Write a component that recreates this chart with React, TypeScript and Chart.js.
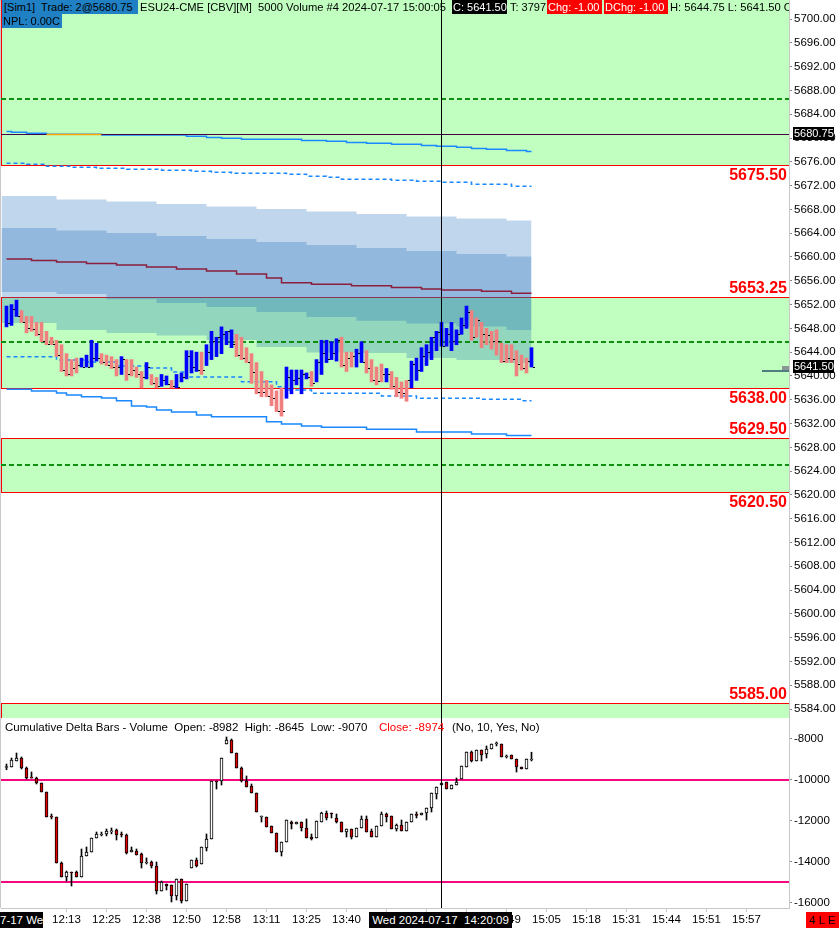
import React, { useEffect, useRef } from 'react';
import { Chart, registerables } from 'chart.js';

Chart.register(...registerables);

const FONT = '"Liberation Sans", Arial, Helvetica, sans-serif';

// ---------- 5000 volume price bars ----------
const barHigh = [
  5651.75, 5652.0, 5652.75, 5651.0, 5650.0, 5650.0, 5649.0, 5649.0, 5647.5, 5646.5,
  5646.0, 5645.25, 5643.75, 5642.75, 5643.0, 5643.0, 5643.5, 5646.0, 5645.5, 5643.75,
  5643.5, 5643.25, 5642.75, 5643.25, 5642.75, 5642.75, 5641.5, 5640.75, 5642.25, 5640.25,
  5639.75, 5640.25, 5640.0, 5639.25, 5640.25, 5640.5, 5644.25, 5644.25, 5644.0, 5644.0,
  5645.25, 5647.5, 5646.5, 5648.25, 5647.5, 5647.75, 5647.0, 5646.5, 5644.75, 5643.75,
  5642.25, 5640.75, 5639.25, 5638.5, 5637.5, 5638.0, 5641.5, 5641.0, 5641.0, 5641.0,
  5640.5, 5640.75, 5642.75, 5646.0, 5646.0, 5645.75, 5646.25, 5646.5, 5644.0, 5644.0,
  5644.5, 5645.75, 5644.25, 5642.75, 5641.5, 5642.0, 5641.25, 5640.75, 5639.75, 5639.0,
  5639.25, 5642.5, 5643.0, 5644.75, 5645.25, 5646.5, 5647.5, 5649.0, 5648.0, 5649.0,
  5647.75, 5649.75, 5651.75, 5651.0, 5649.75, 5649.0, 5648.0, 5647.5, 5647.75, 5645.5,
  5645.25, 5645.25, 5644.25, 5643.5, 5643.0, 5644.75,
];
const barLow = [
  5648.25, 5648.5, 5650.0, 5649.0, 5647.25, 5647.5, 5646.75, 5645.75, 5645.25, 5645.25,
  5643.25, 5640.75, 5640.0, 5640.0, 5640.5, 5641.5, 5641.5, 5641.5, 5642.5, 5642.0,
  5641.75, 5641.25, 5640.0, 5640.25, 5639.25, 5640.0, 5639.75, 5638.0, 5639.5, 5638.5,
  5638.0, 5638.25, 5638.5, 5638.0, 5638.0, 5639.0, 5639.5, 5640.5, 5640.75, 5640.25,
  5641.75, 5642.75, 5643.25, 5643.75, 5645.25, 5644.75, 5643.25, 5642.75, 5642.25, 5638.75,
  5637.0, 5636.5, 5636.5, 5635.0, 5634.0, 5633.25, 5636.25, 5637.0, 5638.5, 5637.0,
  5639.5, 5638.25, 5639.0, 5640.25, 5642.25, 5642.75, 5642.5, 5641.5, 5640.75, 5641.5,
  5641.5, 5642.25, 5640.5, 5639.0, 5638.5, 5639.0, 5639.0, 5637.75, 5636.5, 5636.25,
  5635.75, 5638.0, 5639.25, 5640.75, 5641.75, 5642.75, 5644.25, 5645.0, 5645.0, 5644.25,
  5645.25, 5647.0, 5648.0, 5646.0, 5646.5, 5644.75, 5645.25, 5644.5, 5643.5, 5642.25,
  5642.25, 5642.25, 5640.0, 5641.0, 5640.5, 5641.5,
];
const barClose = [
  5648.75, 5651.25, 5650.0, 5649.0, 5648.0, 5647.75, 5647.0, 5645.75, 5645.25, 5645.25,
  5643.5, 5641.0, 5640.25, 5641.25, 5641.75, 5641.5, 5641.5, 5643.0, 5643.0, 5642.25,
  5641.75, 5641.5, 5641.5, 5642.75, 5640.25, 5641.0, 5640.25, 5639.75, 5641.5, 5638.75,
  5638.25, 5639.25, 5638.5, 5638.25, 5638.0, 5639.75, 5643.25, 5641.5, 5641.0, 5641.0,
  5644.0, 5645.75, 5646.5, 5647.0, 5647.5, 5645.25, 5643.5, 5643.0, 5642.25, 5640.5,
  5637.25, 5637.25, 5636.5, 5636.25, 5634.0, 5634.0, 5639.75, 5639.25, 5639.5, 5640.25,
  5639.75, 5638.75, 5642.25, 5643.75, 5642.75, 5643.75, 5646.0, 5641.75, 5643.0, 5643.25,
  5643.75, 5642.25, 5641.25, 5639.25, 5639.0, 5640.25, 5640.25, 5638.25, 5637.25, 5637.0,
  5639.25, 5642.0, 5641.0, 5643.25, 5644.0, 5646.5, 5647.25, 5645.0, 5647.0, 5645.75,
  5647.0, 5648.5, 5650.75, 5646.5, 5649.25, 5647.0, 5646.75, 5645.75, 5645.75, 5642.5,
  5643.0, 5642.75, 5642.0, 5641.25, 5642.5, 5641.5,
];
// 1 = up bar (blue), 0 = down bar (salmon)
const barUp = [
  1, 1, 1, 0, 0, 0, 0, 0, 0, 0,
  0, 0, 0, 0, 0, 1, 1, 1, 1, 0,
  0, 0, 0, 1, 0, 0, 0, 0, 1, 0,
  0, 1, 1, 0, 1, 1, 1, 1, 1, 0,
  1, 1, 1, 1, 1, 1, 0, 0, 0, 0,
  0, 0, 0, 0, 0, 0, 1, 1, 1, 1,
  1, 0, 1, 1, 1, 1, 1, 0, 0, 0,
  1, 1, 0, 0, 0, 0, 1, 0, 0, 0,
  0, 1, 1, 1, 1, 1, 1, 1, 1, 1,
  1, 1, 1, 0, 0, 0, 0, 0, 0, 0,
  0, 0, 0, 0, 0, 1,
];

// ---------- Cumulative delta candles ----------
const cdOpen = [
  -9360, -9366, -9073, -8927, -9415, -9860, -9902, -10146, -10585, -11760,
  -11805, -14049, -14732, -14488, -14488, -14732, -13707, -13512, -12829, -12634,
  -12634, -12488, -12440, -12634, -12683, -13512, -13463, -13610, -14000, -14000,
  -14195, -15415, -15073, -15122, -15659, -14829, -15902, -14293, -13902, -14098,
  -13317, -12878, -10049, -10049, -8244, -8049, -8683, -9415, -10049, -10293,
  -10634, -11756, -11805, -12244, -12585, -13512, -13024, -12049, -12146, -12049,
  -12341, -12780, -12829, -12049, -11610, -11610, -11854, -12049, -12537, -12390,
  -12780, -12341, -11902, -12488, -12780, -12244, -11659, -11756, -12390, -12195,
  -12488, -12049, -11680, -11707, -11610, -11366, -10683, -10244, -10098, -10439,
  -10244, -9951, -9366, -8634, -9073, -8537, -8732, -8488, -8200, -8244,
  -8829, -8780, -8976, -9366, -9463, -8982,
];
const cdHigh = [
  -9220, -8927, -8683, -8878, -9366, -9610, -9860, -10146, -10585, -11659,
  -11805, -14000, -14439, -14488, -14439, -13366, -13268, -12829, -12537, -12540,
  -12390, -12340, -12390, -12537, -12634, -13268, -13366, -13561, -13800, -13951,
  -14000, -14927, -15073, -15122, -14829, -14829, -15073, -13902, -13805, -13268,
  -12634, -10049, -10049, -8927, -7902, -8000, -8683, -9366, -9805, -10195,
  -10634, -11756, -11805, -12244, -12585, -13024, -11951, -12000, -12049, -12049,
  -11902, -12634, -12000, -11570, -11512, -11610, -11659, -12049, -12390, -12390,
  -12341, -11756, -11756, -12390, -12244, -11561, -11610, -11756, -12146, -11951,
  -12049, -11659, -11561, -11610, -11366, -10634, -10341, -10146, -10098, -10244,
  -9902, -9317, -8634, -8585, -8537, -8537, -8340, -8244, -8146, -8244,
  -8780, -8780, -8976, -9366, -8976, -8645,
];
const cdLow = [
  -9500, -9366, -9073, -9463, -9951, -9902, -10195, -10585, -11805, -11902,
  -14049, -14732, -14927, -15171, -14732, -14732, -13707, -13512, -12829, -12730,
  -12730, -12630, -12927, -12780, -13610, -13512, -13659, -14293, -14098, -14293,
  -15561, -15415, -15366, -15951, -15854, -16000, -15902, -14293, -14244, -14098,
  -13463, -12878, -10439, -10244, -8244, -8683, -9415, -10098, -10341, -10634,
  -11561, -12049, -12293, -12585, -13512, -13707, -13024, -12390, -12146, -12488,
  -12829, -12927, -12829, -12049, -11951, -11854, -12098, -12537, -12780, -12878,
  -12780, -12341, -12537, -12780, -12780, -12244, -12049, -12390, -12488, -12488,
  -12488, -12049, -11854, -11707, -11951, -11561, -10927, -10244, -10439, -10439,
  -10244, -9951, -9366, -9122, -9073, -9073, -8927, -8488, -8340, -8878,
  -8927, -8976, -9610, -9463, -9463, -9070,
];
const cdClose = [
  -9340, -9024, -8927, -9415, -9902, -9902, -10146, -10585, -11805, -11800,
  -14049, -14732, -14488, -14500, -14732, -13707, -13512, -12829, -12634, -12634,
  -12488, -12480, -12683, -12683, -13561, -13415, -13659, -14049, -14000, -14195,
  -15415, -14976, -15171, -15659, -14829, -15902, -15073, -13902, -14195, -13268,
  -12878, -10049, -10060, -8927, -8049, -8683, -9415, -10049, -10341, -10634,
  -11561, -11756, -12293, -12585, -13512, -13024, -11951, -12146, -12049, -12341,
  -12829, -12878, -12000, -11610, -11854, -11620, -12049, -12537, -12390, -12780,
  -12341, -11902, -12537, -12780, -12244, -11659, -11805, -12390, -12195, -12488,
  -12049, -11659, -11700, -11610, -11366, -10634, -10341, -10146, -10439, -10244,
  -10098, -9317, -8634, -9073, -8537, -8780, -8488, -8244, -8195, -8878,
  -8829, -8976, -9366, -9463, -8976, -8974,
];

// ---------- VWAP-style step lines: [bar index where value starts, price] ----------
const vwapUpper2 = [
  [0, 5681.1], [1, 5680.95], [4, 5680.8], [8, 5680.62], [19, 5680.5], [36, 5680.3], [40, 5680.1],
  [43, 5679.95], [47, 5679.8], [59, 5679.6], [64, 5679.45], [68, 5679.25], [72, 5679.1], [77, 5678.95],
  [83, 5678.75], [86, 5678.6], [90, 5678.45], [93, 5678.25], [96, 5678.1], [100, 5677.9], [104, 5677.75],
  [105, 5677.75],
];
const vwapUpper1 = [
  [0, 5675.74], [4, 5675.57], [8, 5675.24], [13, 5675.07], [18, 5674.9], [24, 5674.73], [31, 5674.57],
  [37, 5674.4], [41, 5674.23], [45, 5674.06], [56, 5673.89], [60, 5673.56], [64, 5673.39], [67, 5673.05],
  [77, 5672.88], [82, 5672.72], [87, 5672.55], [93, 5672.21], [101, 5671.88], [105, 5671.88],
];
const vwapCenter = [
  [0, 5659.66], [5, 5659.4], [10, 5659.15], [16, 5658.9], [22, 5658.65], [28, 5658.31], [34, 5657.97],
  [40, 5657.64], [46, 5657.13], [52, 5656.46], [55, 5655.67], [61, 5655.4], [69, 5655.17], [77, 5654.86],
  [83, 5654.61], [87, 5654.44], [95, 5654.23], [101, 5653.89], [105, 5653.89],
];
const vwapLower1 = [
  [0, 5643.23], [10, 5642.68], [16, 5642.34], [22, 5641.67], [28, 5641.33], [33, 5640.66], [36, 5639.82],
  [47, 5639.03], [54, 5638.19], [56, 5637.64], [61, 5637.08], [75, 5636.63], [82, 5636.24], [95, 5636.07],
  [103, 5635.84], [105, 5635.84],
];
const vwapLower2 = [
  [0, 5637.75], [5, 5637.47], [10, 5637.13], [12, 5636.8], [15, 5636.51], [19, 5636.29], [22, 5635.84],
  [25, 5634.95], [28, 5634.78], [30, 5634.27], [33, 5633.94], [38, 5633.43], [41, 5633.15], [52, 5632.31],
  [55, 5631.92], [59, 5631.58], [63, 5631.36], [72, 5631.03], [82, 5630.57], [93, 5630.24], [100, 5629.99],
  [105, 5629.99],
];

// ---------- shaded channel bands ----------
const bandIdx = [-1, 10, 20, 30, 40, 50, 60, 70, 80, 90, 100, 105];
const outerBandTop = [5670.25, 5669.66, 5669.32, 5668.9, 5668.48, 5668.06, 5667.64, 5667.22, 5666.8, 5666.46, 5666.13, 5666.13];
const outerBandBottom = [5648.9, 5647.72, 5647.22, 5646.8, 5646.04, 5644.86, 5643.95, 5643.85, 5643.0, 5642.68, 5642.17, 5642.17];
const innerBandTop = [5664.87, 5664.45, 5664.03, 5663.52, 5663.02, 5662.51, 5662.01, 5661.5, 5661.0, 5660.5, 5660.08, 5660.08];
const innerBandBottom = [5654.11, 5653.77, 5652.9, 5652.25, 5651.6, 5650.75, 5649.9, 5649.3, 5648.8, 5648.3, 5647.72, 5647.72];

// ---------- supply / demand zones ----------
const zoneLow = [5675.5, 5638.0, 5620.5, 5570.0];
const zoneHigh = [5710.0, 5653.25, 5629.5, 5585.0];
const zoneMid = [5686.5, 5645.625, 5625.0];
const zoneLabelPrice = [5675.5, 5653.25, 5638.0, 5629.5, 5620.5, 5585.0];
const zoneLabelAbove = [false, true, false, true, false, true];

// ---------- misc markers ----------
const tradePrice = 5680.75;
const tradeSpan = [8, 19];
const lastPrice = 5641.5;
const positionPrice = 5640.75;
const positionFrom = 151;
const deltaLevels = [-10000, -15000];
const deltaTicks = [-16000, -14000, -12000, -10000, -8000];
const crosshairIndex = 87;
const xTickIdx = [12, 20, 28, 36, 44, 52, 60, 68, 76, 84, 92, 100, 108, 116, 124, 132, 140, 148];
const xTickLabels = ['12:13', '12:25', '12:38', '12:50', '12:58', '13:11', '13:25', '13:40', '13:55', '14:08',
  '14:32', '14:49', '15:05', '15:18', '15:31', '15:44', '15:51', '15:57'];

const X_MIN = -1.1;
const X_MAX = 156.5;
const PRICE_MIN = 5582.5;
const PRICE_MAX = 5703.2;
const DELTA_MIN = -16244;
const DELTA_MAX = -6976;

const BLUE_LINE = '#1a88ff';
const BAND = 'rgba(22,104,185,0.27)';

const pts = (pairs: number[][]) => pairs.map(([x, y]) => ({ x, y }));
const bandPts = (vals: number[]) => bandIdx.map((x, k) => ({ x, y: vals[k] }));

function clipArea(ctx: CanvasRenderingContext2D, a: any) {
  ctx.beginPath();
  ctx.rect(a.left, a.top, a.right - a.left, a.bottom - a.top);
  ctx.clip();
}

const pricePanePlugin = {
  id: 'pricePane',
  beforeDraw(chart: any) {
    const { ctx, chartArea: a, scales } = chart;
    const y = scales.y;
    ctx.save();
    clipArea(ctx, a);
    for (let k = 0; k < zoneLow.length; k++) {
      const t = Math.round(y.getPixelForValue(zoneHigh[k]));
      const b = Math.round(y.getPixelForValue(zoneLow[k]));
      ctx.fillStyle = '#c0ffc0';
      ctx.fillRect(a.left, t, a.right - a.left, b - t);
      ctx.strokeStyle = '#ff0000';
      ctx.lineWidth = 1;
      ctx.strokeRect(a.left + 0.5, t + 0.5, a.right - a.left + 5, b - t);
    }
    ctx.restore();
  },
  afterDatasetDraw(chart: any, args: any) {
    if (args.index !== 3) return;
    const { ctx, chartArea: a, scales } = chart;
    const y = scales.y;
    ctx.save();
    clipArea(ctx, a);
    ctx.strokeStyle = '#0f8f0f';
    ctx.lineWidth = 2;
    ctx.setLineDash([5, 3]);
    zoneMid.forEach((m) => {
      const py = Math.round(y.getPixelForValue(m));
      ctx.beginPath();
      ctx.moveTo(a.left, py);
      ctx.lineTo(a.right, py);
      ctx.stroke();
    });
    ctx.restore();
  },
  afterDatasetsDraw(chart: any) {
    const { ctx, chartArea: a, scales } = chart;
    const x = scales.x;
    const y = scales.y;
    ctx.save();
    clipArea(ctx, a);
    const ty = Math.round(y.getPixelForValue(tradePrice)) + 0.5;
    ctx.strokeStyle = '#440044';
    ctx.lineWidth = 1;
    ctx.beginPath();
    ctx.moveTo(a.left, ty);
    ctx.lineTo(a.right, ty);
    ctx.stroke();
    ctx.strokeStyle = '#ffa500';
    ctx.lineWidth = 1.5;
    ctx.beginPath();
    ctx.moveTo(x.getPixelForValue(tradeSpan[0]), ty);
    ctx.lineTo(x.getPixelForValue(tradeSpan[1]), ty);
    ctx.stroke();
    const my = Math.round(y.getPixelForValue(positionPrice));
    const mx = Math.round(x.getPixelForValue(positionFrom));
    ctx.fillStyle = '#4f7d80';
    ctx.fillRect(mx, my - 1, a.right - mx, 2);
    ctx.fillStyle = '#8a9696';
    ctx.fillRect(a.right - 7, my - 5, 7, 4);
    ctx.restore();

    ctx.save();
    ctx.font = `bold 16px ${FONT}`;
    ctx.fillStyle = '#ff0000';
    ctx.textAlign = 'right';
    ctx.textBaseline = 'alphabetic';
    zoneLabelPrice.forEach((p, k) => {
      const py = y.getPixelForValue(p);
      ctx.fillText(p.toFixed(2), a.right - 2, zoneLabelAbove[k] ? py - 4 : py + 15);
    });
    ctx.font = `11px ${FONT}`;
    ctx.textAlign = 'left';
    ctx.textBaseline = 'middle';
    [tradePrice, lastPrice].forEach((p) => {
      const py = Math.round(y.getPixelForValue(p));
      ctx.fillStyle = '#000';
      ctx.fillRect(a.right + 4, py - 7, 41, 13);
      ctx.fillStyle = '#fff';
      ctx.fillText(p.toFixed(2), a.right + 5, py);
    });
    const cx = Math.floor(x.getPixelForValue(crosshairIndex));
    ctx.fillStyle = '#000';
    ctx.fillRect(cx, 0, 1, a.bottom);
    ctx.fillStyle = '#c8c8c8';
    ctx.fillRect(0, 0, 1, chart.height);
    ctx.restore();
  },
};

const deltaPanePlugin = {
  id: 'deltaPane',
  beforeDatasetsDraw(chart: any) {
    const { ctx, chartArea: a, scales } = chart;
    const y = scales.y;
    ctx.save();
    ctx.fillStyle = '#f5077e';
    deltaLevels.forEach((v) => {
      const py = Math.round(y.getPixelForValue(v));
      ctx.fillRect(a.left, py - 1, a.right - a.left, 2);
    });
    ctx.restore();
  },
  afterDraw(chart: any) {
    const { ctx, chartArea: a, scales } = chart;
    const x = scales.x;
    ctx.save();
    const cx = Math.floor(x.getPixelForValue(crosshairIndex));
    ctx.fillStyle = '#000';
    ctx.fillRect(cx, 0, 1, a.bottom);
    ctx.fillStyle = '#c8c8c8';
    ctx.fillRect(0, 0, 1, a.bottom);
    ctx.restore();
  },
};

const tickFont = { family: FONT, size: 11.5 };

export default function App() {
  const topRef = useRef<HTMLCanvasElement>(null);
  const botRef = useRef<HTMLCanvasElement>(null);

  useEffect(() => {
    const tickImg = document.createElement('canvas');
    tickImg.width = 7;
    tickImg.height = 1;
    const tctx = tickImg.getContext('2d')!;
    tctx.fillStyle = '#000';
    tctx.fillRect(5, 0, 2, 1);

    const lineDs = (label: string, data: any[], extra: any) => ({
      type: 'line',
      label,
      data,
      stepped: true,
      pointRadius: 0,
      fill: false,
      ...extra,
    });

    const top = new Chart(topRef.current!, {
      type: 'bar',
      data: {
        datasets: [
          lineDs('outerTop', bandPts(outerBandTop), { fill: '+1', backgroundColor: BAND, borderWidth: 0, order: 100 }),
          lineDs('outerBottom', bandPts(outerBandBottom), { borderWidth: 0, order: 99 }),
          lineDs('innerTop', bandPts(innerBandTop), { fill: '+1', backgroundColor: BAND, borderWidth: 0, order: 98 }),
          lineDs('innerBottom', bandPts(innerBandBottom), { borderWidth: 0, order: 97 }),
          lineDs('upper2', pts(vwapUpper2), { borderColor: BLUE_LINE, borderWidth: 1.5, order: 50 }),
          lineDs('upper1', pts(vwapUpper1), { borderColor: BLUE_LINE, borderWidth: 1.5, borderDash: [4, 3], order: 50 }),
          lineDs('center', pts(vwapCenter), { borderColor: '#8c1e3c', borderWidth: 1.5, order: 50 }),
          lineDs('lower1', pts(vwapLower1), { borderColor: BLUE_LINE, borderWidth: 1.5, borderDash: [4, 3], order: 50 }),
          lineDs('lower2', pts(vwapLower2), { borderColor: BLUE_LINE, borderWidth: 1.5, order: 50 }),
          {
            type: 'bar',
            label: 'bars',
            data: barHigh.map((h, i) => ({ x: i, y: [barLow[i], h] })),
            backgroundColor: barUp.map((u) => (u ? '#0000ff' : '#f08080')),
            barThickness: 3,
            grouped: false,
            order: 10,
          },
          {
            type: 'scatter',
            label: 'close',
            data: barClose.map((c, i) => ({ x: i, y: c })),
            pointStyle: tickImg,
            pointRadius: 3,
            showLine: false,
            order: 5,
          },
        ] as any,
      },
      options: {
        responsive: false,
        animation: false,
        devicePixelRatio: 1,
        events: [],
        layout: { padding: { left: 1, right: 0, top: 0, bottom: 0 }, autoPadding: false },
        plugins: { legend: { display: false }, tooltip: { enabled: false } },
        scales: {
          x: { type: 'linear', display: false, min: X_MIN, max: X_MAX, offset: false, grid: { offset: false } },
          y: {
            type: 'linear',
            position: 'right',
            min: PRICE_MIN,
            max: PRICE_MAX,
            ticks: {
              stepSize: 4,
              includeBounds: false,
              padding: 2,
              color: '#000',
              font: tickFont,
              callback: (v: any) => Number(v).toFixed(2),
            },
            grid: { drawOnChartArea: false, tickLength: 3, color: '#888' },
            border: { color: '#c8c8c8' },
            afterFit: (s: any) => {
              s.width = 50;
              s.paddingTop = 0;
              s.paddingBottom = 0;
            },
          },
        },
      } as any,
      plugins: [pricePanePlugin],
    });

    const bot = new Chart(botRef.current!, {
      type: 'bar',
      data: {
        datasets: [
          {
            label: 'wick',
            data: cdHigh.map((h, i) => ({ x: i, y: [cdLow[i], h] })),
            backgroundColor: '#000',
            barThickness: 1,
            grouped: false,
            order: 20,
          },
          {
            label: 'body',
            data: cdOpen.map((o, i) => ({ x: i, y: [o, cdClose[i]] })),
            backgroundColor: cdClose.map((c, i) => (c >= cdOpen[i] ? '#ffffff' : '#e00000')),
            borderColor: '#000',
            borderWidth: 1,
            borderSkipped: false,
            minBarLength: 1,
            barThickness: 3,
            grouped: false,
            order: 10,
          },
        ] as any,
      },
      options: {
        responsive: false,
        animation: false,
        devicePixelRatio: 1,
        events: [],
        layout: { padding: { left: 1, right: 0, top: 0, bottom: 0 }, autoPadding: false },
        plugins: { legend: { display: false }, tooltip: { enabled: false } },
        scales: {
          x: {
            type: 'linear',
            min: X_MIN,
            max: X_MAX,
            offset: false,
            grid: { offset: false, drawOnChartArea: false, drawTicks: true, tickLength: 4, color: '#c8c8c8' },
            border: { display: true, color: '#c8c8c8' },
            ticks: {
              autoSkip: false,
              maxRotation: 0,
              minRotation: 0,
              padding: 1,
              color: '#000',
              font: tickFont,
              callback: (v: any) => {
                const k = xTickIdx.indexOf(Number(v));
                return k >= 0 ? xTickLabels[k] : '';
              },
            },
            afterBuildTicks: (s: any) => {
              s.ticks = xTickIdx.map((v) => ({ value: v }));
            },
            afterFit: (s: any) => {
              s.height = 20;
              s.paddingLeft = 0;
              s.paddingRight = 0;
            },
          },
          y: {
            type: 'linear',
            position: 'right',
            min: DELTA_MIN,
            max: DELTA_MAX,
            ticks: {
              padding: 2,
              color: '#000',
              font: tickFont,
              callback: (v: any) => String(v),
            },
            afterBuildTicks: (s: any) => {
              s.ticks = deltaTicks.map((v) => ({ value: v }));
            },
            grid: { drawOnChartArea: false, tickLength: 3, color: '#888' },
            border: { color: '#c8c8c8' },
            afterFit: (s: any) => {
              s.width = 50;
              s.paddingTop = 0;
              s.paddingBottom = 0;
            },
          },
        },
      } as any,
      plugins: [deltaPanePlugin],
    });

    return () => {
      top.destroy();
      bot.destroy();
    };
  }, []);

  const last = barClose.length - 1;
  const base: React.CSSProperties = {
    position: 'absolute',
    whiteSpace: 'pre',
    fontSize: 11.5,
    lineHeight: '14px',
    height: 14,
    overflow: 'hidden',
    color: '#000',
  };
  const head: React.CSSProperties = { ...base, fontSize: 11.2 };
  const headBox: React.CSSProperties = { ...base, fontSize: 11, paddingLeft: 1, boxSizing: 'border-box' };
  const boxStyle: React.CSSProperties = {
    ...base,
    height: 16,
    lineHeight: '16px',
    top: 912,
    textAlign: 'center',
  };
  const chg = (lastPrice - barClose[last - 1]).toFixed(2);

  return (
    <div
      style={{
        position: 'absolute',
        left: 0,
        top: 0,
        width: 839,
        height: 928,
        overflow: 'hidden',
        background: '#fff',
        fontFamily: FONT,
      }}
    >
      <canvas ref={topRef} width={839} height={718} style={{ position: 'absolute', left: 0, top: 0, width: 839, height: 718 }} />
      <canvas ref={botRef} width={839} height={210} style={{ position: 'absolute', left: 0, top: 718, width: 839, height: 210 }} />

      <div style={{ position: 'absolute', left: 0, top: 0, width: 789, height: 30, overflow: 'hidden' }}>
        <span style={{ ...headBox, left: 2, top: 0, width: 136, background: '#1f80c4', paddingLeft: 2 }}>
          {`[Sim1]  Trade: 2@${tradePrice.toFixed(2)}`}
        </span>
        <span style={{ ...headBox, left: 2, top: 14, width: 60, background: '#1f80c4' }}>NPL: 0.00C</span>
        <span style={{ ...head, left: 140, top: 0 }}>ESU24-CME [CBV][M]  5000 Volume #4 2024-07-17 15:00:05</span>
        <span style={{ ...headBox, left: 452, top: 0, width: 55, background: '#000', color: '#fff' }}>
          {`C: ${lastPrice.toFixed(2)}`}
        </span>
        <span style={{ ...headBox, left: 509, top: 0 }}>T: 3797</span>
        <span style={{ ...headBox, left: 547, top: 0, width: 55, background: '#ff0000', color: '#fff' }}>
          {`Chg: ${chg}`}
        </span>
        <span style={{ ...headBox, left: 604, top: 0, width: 64, background: '#ff0000', color: '#fff' }}>
          {`DChg: ${chg}`}
        </span>
        <span style={{ ...head, left: 670, top: 0, width: 119 }}>
          {`H: ${barHigh[last].toFixed(2)} L: ${barLow[last].toFixed(2)} O`}
        </span>
      </div>

      <span style={{ ...base, left: 5, top: 720 }}>
        {`Cumulative Delta Bars - Volume  Open: ${cdOpen[last]}  High: ${cdHigh[last]}  Low: ${cdLow[last]}`}
      </span>
      <span style={{ ...base, left: 379, top: 720, color: '#ff0000' }}>{`Close: ${cdClose[last]}`}</span>
      <span style={{ ...base, left: 452, top: 720 }}>(No, 10, Yes, No)</span>

      <span style={{ ...boxStyle, left: 0, width: 43, background: '#000', color: '#fff', textAlign: 'right' }}>7-17 We</span>
      <span style={{ ...boxStyle, left: 369, width: 143, background: '#000', color: '#fff' }}>Wed 2024-07-17  14:20:09</span>
      <span style={{ ...boxStyle, left: 806, width: 33, background: '#ff0000', color: '#000' }}>4 L E</span>
    </div>
  );
}
